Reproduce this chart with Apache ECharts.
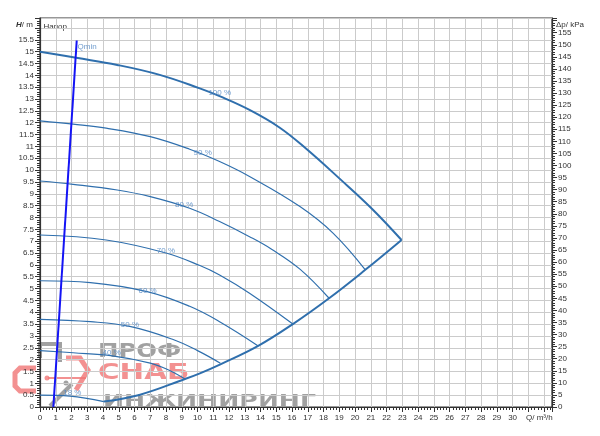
<!DOCTYPE html>
<html><head><meta charset="utf-8">
<script src="https://cdn.jsdelivr.net/npm/echarts@6/dist/echarts.min.js"></script>
<style>html,body{margin:0;padding:0;background:#fff}#c{width:600px;height:436px}</style>
</head><body><div id="c"></div>
<script>
// ---- data ----
const qAxisMax = 32.5;      // m3/h
const hAxisMax = 16.42;     // m
const kpaPerM = 9.81;

const curve100 = [[0,15.0],[2.3,14.74],[4.9,14.44],[7.6,14.02],[10.1,13.46],[11.4,13.12],[13.3,12.54],[15.2,11.8],[16.9,10.9],[19.0,9.65],[21.1,8.35],[22.95,7.05]];
const curve90 = [[0,12.08],[2.1,11.94],[4.2,11.77],[7.0,11.41],[9.5,10.88],[11.4,10.36],[13.3,9.73],[16.5,8.46],[18.6,7.34],[20.65,5.79]];
const curve80 = [[0,9.54],[2.1,9.4],[4.9,9.16],[7.0,8.88],[9.5,8.39],[11.4,7.83],[13.3,7.19],[14.7,6.66],[16.5,5.82],[18.35,4.59]];
const curve70 = [[0,7.26],[4.2,7.05],[8.0,6.5],[10.15,5.97],[11.4,5.57],[13.3,4.8],[16.05,3.5]];
const curve60 = [[0,5.33],[3.2,5.25],[6.8,4.87],[9.5,4.25],[11.4,3.6],[13.85,2.58]];
const curve50 = [[0,3.7],[3.2,3.6],[5.7,3.4],[8.45,2.85],[10.0,2.38],[11.45,1.85]];
const curve40 = [[0,2.38],[2.1,2.29],[4.6,2.16],[7.0,1.85],[8.2,1.55],[9.2,1.18]];
const curve18 = [[0,0.5],[1.9,0.46],[4.05,0.23]];
const envelope = [[4.05,0.23],[6.3,0.51],[9.2,1.18],[10.15,1.42],[11.45,1.8],[13.85,2.58],[16.05,3.5],[18.35,4.59],[20.65,5.79],[22.95,7.05]];
const qminLine = [[0.85,0],[2.33,15.47]];

const curveLabels = ['100 %','90 %','80 %','70 %','60 %','50 %','40 %','18 %'];
const curveLabelPos = [[11.41,13.25],[10.33,10.75],[9.15,8.53],[7.99,6.6],[6.83,4.91],[5.71,3.47],[4.55,2.29],[2.05,0.61]];
const qminLabel = 'Qmin';
const qminLabelPos = [2.38,15.2];

// ---- chart ----
const chart = echarts.init(document.getElementById('c'), null, {renderer:'canvas'});
const FONT = '"Liberation Sans", Arial, sans-serif';
const lineCol = '#2f6fad';
const gridCol = '#cbcbcb';
const axisCol = '#333';

function curve(data, w){
  return {type:'line', data:data, smooth:0.4, showSymbol:false, symbol:'none',
    lineStyle:{color:lineCol, width:w}, silent:true, z:3};
}
const labelData = curveLabels.map((t,i)=>({value:curveLabelPos[i], name:t}));

const option = {
  animation:false,
  backgroundColor:'#fff',
  grid:{left:40, right:48, top:18, bottom:29, show:true, borderColor:axisCol, borderWidth:1.2, backgroundColor:'transparent'},
  xAxis:{type:'value', min:0, max:qAxisMax, interval:1,
    axisLine:{show:true, onZero:false, lineStyle:{color:axisCol, width:1.2}},
    axisTick:{show:true, inside:false, length:5, lineStyle:{color:axisCol}},
    minorTick:{show:true, splitNumber:5, length:3, lineStyle:{color:axisCol}},
    axisLabel:{margin:7, fontSize:8, color:axisCol, fontFamily:FONT,
      formatter:v=> v>30.001 ? '' : String(v)},
    splitLine:{show:true, lineStyle:{color:gridCol, width:1}}},
  yAxis:[
    {type:'value', position:'left', min:0, max:hAxisMax, interval:0.5,
      axisLine:{show:true, onZero:false, lineStyle:{color:axisCol, width:1.2}},
      axisTick:{show:true, length:5, lineStyle:{color:axisCol}},
      minorTick:{show:true, splitNumber:5, length:3, lineStyle:{color:axisCol}},
      axisLabel:{margin:6, fontSize:8, color:axisCol, fontFamily:FONT,
        formatter:v=> v>15.501 ? '' : String(Math.round(v*10)/10)},
      splitLine:{show:true, lineStyle:{color:gridCol, width:1}}},
    {type:'value', position:'right', min:0, max:hAxisMax*kpaPerM, interval:5,
      axisLine:{show:true, onZero:false, lineStyle:{color:axisCol, width:1.2}},
      axisTick:{show:true, length:5, lineStyle:{color:axisCol}},
      minorTick:{show:true, splitNumber:5, length:3, lineStyle:{color:axisCol}},
      axisLabel:{margin:6, fontSize:8, color:axisCol, fontFamily:FONT,
        formatter:v=> (v>155.001 || Math.abs(v/5-Math.round(v/5))>1e-6) ? '' : String(Math.round(v))},
      splitLine:{show:false}}
  ],
  series:[
    curve(curve90,1.2), curve(curve80,1.2), curve(curve70,1.2), curve(curve60,1.2),
    curve(curve50,1.2), curve(curve40,1.2), curve(curve18,1.2),
    curve(curve100,2), curve(envelope,2),
    {type:'line', data:qminLine, showSymbol:false, symbol:'none', silent:true, z:4,
      lineStyle:{color:'#1414f5', width:2}},
    {type:'scatter', data:labelData, symbolSize:0, silent:true, z:5,
      label:{show:true, position:'inside', formatter:p=>p.name, fontSize:8, color:'#4d85c2', fontFamily:FONT}},
    {type:'scatter', data:[{value:qminLabelPos, name:qminLabel}], symbolSize:0, silent:true, z:5,
      label:{show:true, position:'right', distance:0, formatter:p=>p.name, fontSize:8, color:'#4d85c2', fontFamily:FONT}}
  ],
  graphic:[
    {type:'text', x:16, y:25, style:{text:'{i|H}/ m', verticalAlign:'middle', font:'8px '+FONT, fill:axisCol,
      rich:{i:{fontStyle:'italic', fontWeight:'bold', fontSize:8, fontFamily:FONT, fill:axisCol}}}},
    {type:'text', x:43.5, y:26.5, style:{text:'Напор', verticalAlign:'middle', font:'8px '+FONT, fill:axisCol}},
    {type:'text', x:556, y:25, style:{text:'Δp/ kPa', verticalAlign:'middle', font:'8px '+FONT, fill:axisCol}},
    {type:'text', x:526, y:418, style:{text:'Q/ m³/h', verticalAlign:'middle', font:'8px '+FONT, fill:axisCol}},
    // watermark
    {type:'group', z:100, silent:true, children:[
      {type:'text', x:98, y:342, scaleX:1.22, style:{text:'ПРОФ', font:'bold 20px "DejaVu Sans"', fill:'#8a8a8a', opacity:0.8, verticalAlign:'top'}},
      {type:'text', x:98, y:363, scaleX:1.4, style:{text:'СНАБ', font:'bold 21px "DejaVu Sans"', fill:'#f07676', opacity:0.8, verticalAlign:'top'}},
      {type:'text', x:103, y:395, scaleX:1.68, style:{text:'ИНЖИНИРИНГ', font:'bold 15px "DejaVu Sans"', fill:'#8a8a8a', opacity:0.8, verticalAlign:'top'}},
      {type:'polyline', shape:{points:[[40,358],[40,344],[60,344],[60,362]]}, style:{stroke:'#8a8a8a', lineWidth:4, fill:null, opacity:0.8}},
      {type:'polyline', shape:{points:[[36,368],[20,368],[15,373],[15,386],[20,391],[36,391]]}, style:{stroke:'#f07676', lineWidth:5, fill:null, opacity:0.8}},
      {type:'polyline', shape:{points:[[66,358],[80,358],[88,370],[76,390]]}, style:{stroke:'#f07676', lineWidth:5, fill:null, opacity:0.8}},
      {type:'polyline', shape:{points:[[48,378],[86,378]]}, style:{stroke:'#f07676', lineWidth:2, fill:null, opacity:0.8}},
      {type:'circle', shape:{cx:47, cy:378, r:2.5}, style:{fill:'#f07676', opacity:0.8}},
      {type:'polyline', shape:{points:[[50,406],[72,384]]}, style:{stroke:'#8a8a8a', lineWidth:4, fill:null, opacity:0.8}},
      {type:'circle', shape:{cx:66, cy:383, r:2.5}, style:{fill:'#8a8a8a', opacity:0.8}}
    ]}
  ]
};
chart.setOption(option);
</script>
</body></html>
